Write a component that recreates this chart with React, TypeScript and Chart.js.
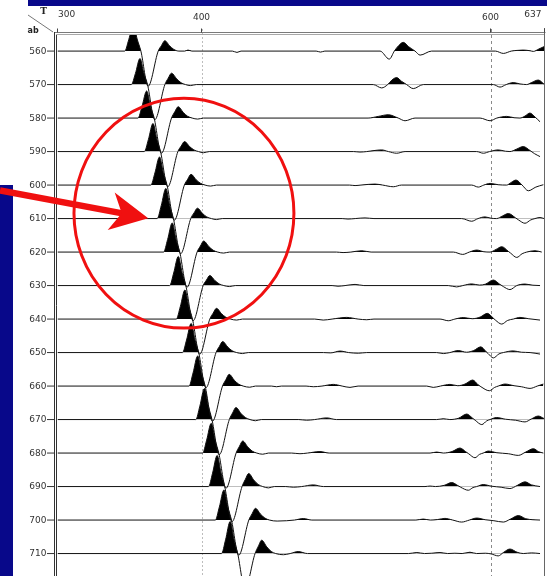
import React, { useEffect, useRef } from "react";
import { Chart, registerables } from "chart.js";

Chart.register(...registerables);

// Offsets of the gather traces (vertical axis, one wiggle per offset)
const OFFSETS = [560, 570, 580, 590, 600, 610, 620, 630, 640, 650, 660, 670, 680, 690, 700, 710];
// Time axis range and labelled ticks
const TIME_MIN = 300;
const TIME_MAX = 637;
const TIME_TICKS = [300, 400, 600, 637];
// Visible offset window (top of the frame clips the first trace)
const OFFSET_MIN = 555.2;
const OFFSET_MAX = 716.7;

// Each trace: [time, amplitude] samples, amplitude in offset units (positive = up)
const TRACE_560 = [[300,0],[346.5,0],[349.3,3.4],[352.5,8.0],[355.1,3.6],[357.7,0],[362.7,-10.5],[369.7,0],[372.0,1.7],[374.3,3.1],[377.5,1.6],[380.5,0.5],[384.0,0],[388,0],[390.3,0.3],[393,0],[421,0],[424.2,-0.4],[427,0],[479,0],[482,-0.3],[485,0],[523.2,0],[529.6,-2.4],[533.1,0],[536,1.6],[539.3,2.6],[543,1.3],[547.4,0],[550.9,-1.2],[558.9,0],[603,0],[608.5,-0.7],[614,0],[618,0.2],[622.3,0.3],[627,0.1],[629.3,-0.1],[633,0.6],[637,1.4]];
const TRACE_570 = [[300,0],[351.1,0],[353.9,3.3],[357.1,7.8],[359.7,3.5],[362.3,0],[367.3,-10.5],[374.3,0],[376.6,1.9],[378.9,3.4],[382.5,1.7],[385.5,0.55],[388.6,0],[392,-0.3],[396,0],[518.5,0],[524.3,-1.0],[528.5,0],[531.5,1.4],[534.7,2.1],[538,1.0],[541.6,0],[546.2,-1.2],[553.1,0],[601.6,0],[606.2,-0.75],[610.5,0],[615.4,0.6],[620,0.2],[624.7,0],[628,0.6],[632.7,1.35],[637,0]];
const TRACE_580 = [[300,0],[355.7,0],[358.5,3.5],[361.7,8.1],[364.3,3.6],[366.9,0],[371.9,-10.5],[378.9,0],[381.2,1.9],[383.5,3.4],[387,1.7],[390,0.55],[393.2,0],[397,-0.3],[401,0],[514.9,0],[522,0.5],[528.9,1.0],[535.8,0],[540.5,-0.8],[547.4,0],[592.4,0],[599.3,-0.8],[604,0],[610.8,0.5],[616,0.1],[620,0],[623.5,0.6],[626.9,1.5],[630.5,0.3],[633.9,-1.1]];
const TRACE_590 = [[300,0],[360.1,0],[362.9,3.6],[366.1,8.4],[368.7,3.8],[371.3,0],[376.3,-10.5],[383.3,0],[385.6,1.65],[387.9,3.0],[391.4,1.5],[394.4,0.5],[397.6,0],[401,-0.35],[405,0],[505,0],[509.3,-0.15],[514,0],[519,0.3],[524.3,0.5],[529,0],[534.7,-0.5],[540.5,0],[590.1,0],[594.7,-0.5],[599,0],[605,0.5],[610,0.1],[613.1,0],[617.5,0.7],[622.3,1.5],[627,0.3],[630,-0.6],[633.9,-1.5]];
const TRACE_600 = [[300,0],[364.6,0],[367.4,3.6],[370.6,8.4],[373.2,3.8],[375.8,0],[380.8,-10.5],[387.8,0],[390.1,1.75],[392.4,3.2],[395.9,1.6],[398.9,0.55],[402.1,0],[406,-0.3],[410,0],[502,0],[505.9,-0.15],[510,0],[515,0.2],[519.7,0.3],[525,0],[532.4,-0.5],[538,0],[586.6,0],[591.2,-0.6],[595,0],[599.3,0.5],[605,0.1],[610.8,0],[614,0.8],[617.3,1.5],[621.5,0],[625.8,-1.7],[631,-0.6],[636.2,0.1]];
const TRACE_610 = [[300,0],[369.0,0],[371.8,3.9],[375.0,9.0],[377.6,4.0],[380.2,0],[385.2,-10.5],[392.2,0],[394.5,1.7],[396.8,3.1],[400.3,1.55],[403.3,0.5],[406.5,0],[410,-0.3],[414,0],[497,0],[501,-0.15],[506,0],[512.8,0.2],[519,0],[579.7,0],[586.6,-0.8],[591,0],[595.8,0.5],[600,0.1],[603.9,0],[608,0.8],[612,1.5],[617,0.2],[619,-0.4],[623.5,-1.4],[627.5,-0.4],[630.4,0],[633.9,0.3],[636.7,0]];
const TRACE_620 = [[300,0],[373.4,0],[376.2,3.75],[379.4,8.7],[382.0,3.9],[384.6,0],[389.6,-10.5],[396.6,0],[398.9,1.8],[401.2,3.3],[404.7,1.65],[407.7,0.55],[410.9,0],[415,-0.3],[419,0],[493,0],[497.6,-0.15],[503,0],[510.5,0.4],[517,0],[573.9,0],[580.4,-0.7],[585,0],[590.1,0.6],[595,0.1],[599.3,0],[603.5,0.8],[607.4,1.6],[612,0.2],[613.5,-0.3],[617.8,-1.6],[621.5,-0.5],[624.7,0],[630.4,0.4],[635.1,0]];
const TRACE_630 = [[300,0],[377.6,0],[380.4,3.75],[383.6,8.7],[386.2,3.9],[388.8,0],[393.8,-10.5],[400.8,0],[403.1,1.65],[405.4,3.0],[408.9,1.5],[411.9,0.5],[415.1,0],[419,-0.3],[423,0],[490,0],[494.1,-0.2],[499,0],[505.9,0.35],[512,0],[570.4,0],[576.2,-0.4],[580.5,0],[586.6,0.5],[592,0.15],[596,0.4],[601.6,1.65],[606,0.4],[608.5,-0.3],[613.1,-1.2],[617.8,0],[623.5,0.45],[629,0.1],[633.9,0]];
const TRACE_640 = [[300,0],[382.2,0],[385.0,3.75],[388.2,8.7],[390.8,3.9],[393.4,0],[398.4,-10.5],[405.4,0],[407.7,1.75],[410.0,3.2],[413.5,1.6],[416.5,0.55],[419.7,0],[424,-0.3],[428,0],[478,0],[483.9,-0.3],[490,0],[500.1,0.5],[508,0],[514,-0.2],[519,0],[564.7,0],[570.4,-0.5],[575,0],[580.8,0.45],[587,0.1],[592.5,0.6],[597.4,1.7],[601.5,0.3],[603,-0.3],[607.4,-1.5],[611.5,-0.4],[615.4,0],[620,0.5],[626,0.1],[633.9,-0.3]];
const TRACE_650 = [[300,0],[386.5,0],[389.3,3.75],[392.5,8.7],[395.1,3.9],[397.7,0],[402.7,-10.5],[409.7,0],[412.0,1.8],[414.3,3.3],[417.8,1.65],[420.8,0.55],[424.0,0],[428,-0.3],[432,0],[484,0],[489,-0.1],[495.5,0.45],[501.5,0],[508.2,-0.2],[514,0],[562.4,0],[567,-0.3],[571.5,0],[577.3,0.6],[583,0.1],[588,0.6],[592.9,1.7],[596.5,0.3],[598,-0.3],[601.6,-1.6],[605.5,-0.4],[608.5,0],[615.4,0.5],[621,0.1],[627,0],[633.9,-0.45]];
const TRACE_660 = [[300,0],[391.0,0],[393.8,3.9],[397.0,9.0],[399.6,4.0],[402.2,0],[407.2,-10.5],[414.2,0],[416.5,1.9],[418.8,3.5],[422.3,1.75],[425.3,0.6],[428.5,0],[433,-0.35],[437,0],[448,0],[451.6,-0.2],[455,0],[472,0],[477,-0.2],[483,0],[490.9,0.5],[497,0],[502.4,-0.4],[508,0],[555.5,0],[560,-0.4],[565,0],[571.6,0.5],[577,0.1],[582,0.6],[587.3,1.8],[591,0.4],[593,-0.2],[598.8,-1.4],[602.5,-0.4],[605,0],[609.7,0.6],[616,0.1],[621,-0.2],[627,-0.7],[632,0],[636.2,0.6]];
const TRACE_670 = [[300,0],[395.7,0],[398.5,4.0],[401.7,9.3],[404.3,4.2],[406.9,0],[411.9,-10.5],[418.9,0],[421.2,2.0],[423.5,3.6],[427.0,1.8],[430.0,0.6],[433.2,0],[437,-0.35],[441,0],[467,0],[472.4,-0.2],[478,0],[486.3,0.5],[493,0],[562.4,0],[567,0.25],[571.5,0],[577.5,0.4],[583.2,1.65],[587,0.5],[589,-0.2],[593.6,-1.5],[597,-0.4],[599.3,0],[603.9,0.6],[610,0.1],[617,-0.2],[623.5,-0.7],[628,0.2],[632.7,1.05],[636.7,0.3]];
const TRACE_680 = [[300,0],[400.4,0],[403.2,3.85],[406.4,8.9],[409.0,4.0],[411.6,0],[416.6,-10.5],[423.6,0],[425.9,2.0],[428.2,3.6],[431.7,1.8],[434.7,0.6],[437.9,0],[442,-0.35],[446,0],[462,0],[467.8,-0.2],[473,0],[481.6,0.45],[488,0],[557.8,0],[562.4,0.3],[567,0],[573,0.45],[578.5,1.5],[582.5,0.4],[584.5,-0.2],[588.9,-1.4],[592,-0.4],[594.6,0],[598.1,0.6],[604,0.1],[612,-0.2],[618.9,-0.7],[624,0.3],[629.3,1.3],[633,0.4],[636.2,0]];
const TRACE_690 = [[300,0],[404.5,0],[407.3,4.0],[410.5,9.3],[413.1,4.2],[415.7,0],[420.7,-10.5],[427.7,0],[430.0,2.15],[432.3,3.9],[435.8,1.95],[438.8,0.65],[442.0,0],[446,-0.4],[450,0],[458,0],[463.2,-0.2],[469,0],[477,0.5],[484,0],[554.3,0],[557.8,0.15],[561.5,0],[567.5,0.35],[572.8,1.2],[577,0.3],[579,-0.2],[584.3,-1.1],[587.5,-0.3],[590.1,0],[594.6,0.6],[600.5,0.1],[607,-0.2],[613.1,-0.6],[618,0.3],[623.5,1.4],[628,0.5],[633.9,0]];
const TRACE_700 = [[300,0],[409.2,0],[412.0,3.9],[415.2,9.0],[417.8,4.0],[420.4,0],[425.4,-10.5],[432.4,0],[434.7,1.9],[437.0,3.5],[440.5,1.75],[443.5,0.6],[446.7,0],[452,-0.3],[458.6,-0.2],[464,0],[470.1,0.45],[476,0],[548,0],[553.1,0.3],[558,0],[563,0.15],[568.1,0.5],[573.5,0],[579.7,-0.6],[585,0],[590.1,0.6],[596,0.1],[602,-0.2],[608.5,-0.6],[613.5,0.3],[618.9,1.35],[624,0.4],[629,0.1],[633.9,0]];
const TRACE_710 = [[300,0],[413.5,0],[416.3,4.1],[419.5,9.6],[422.1,4.3],[424.7,0],[429.7,-10.5],[436.7,0],[439.0,2.2],[441.3,4.0],[444.8,2.0],[447.8,0.65],[451.0,0],[456.3,-0.35],[461,0],[466.6,0.6],[473,0],[543,0],[548.6,0.3],[554,0],[559,0.1],[564.7,0.3],[570,0],[575,0.1],[580,0],[585.4,0.4],[590,0],[596,0.1],[600,-0.1],[605,-0.7],[608.5,0.3],[613.1,1.35],[618,0.4],[622.3,0],[628,0.2],[633.9,0]];

const TRACES = [TRACE_560, TRACE_570, TRACE_580, TRACE_590, TRACE_600, TRACE_610, TRACE_620, TRACE_630,
  TRACE_640, TRACE_650, TRACE_660, TRACE_670, TRACE_680, TRACE_690, TRACE_700, TRACE_710];

// Highlight: ellipse around the direct arrival and an arrow pointing at it (time, offset)
const HIGHLIGHT_CENTER = [387.5, 608.4];
const HIGHLIGHT_RADII = [76.1, 34.3];
const ARROW_TAIL = [260.2, 601.6];
const ARROW_TIP = [362.8, 609.9];

const NAVY = "#08088a";
const RED = "#f01010";
const LABEL_FONT = '9px "DejaVu Sans", sans-serif';

const sectionDecor = {
  id: "sectionDecor",
  beforeDatasetsDraw(chart: any) {
    const { ctx, scales } = chart;
    const x = scales.x;
    ctx.save();
    const guides = [
      { v: 400, color: "#bdbdbd", dash: [2, 2] },
      { v: 600, color: "#8a8a8a", dash: [3, 3] },
    ];
    for (const g of guides) {
      const px = Math.round(x.getPixelForValue(g.v)) + 0.5;
      ctx.strokeStyle = g.color;
      ctx.lineWidth = 1;
      ctx.setLineDash(g.dash);
      ctx.beginPath();
      ctx.moveTo(px, 29);
      ctx.lineTo(px, chart.height);
      ctx.stroke();
    }
    ctx.restore();
  },
  afterDraw(chart: any) {
    const { ctx, chartArea, scales } = chart;
    const x = scales.x;
    const y = scales.y;
    const H = chart.height;
    ctx.save();
    ctx.setLineDash([]);
    ctx.lineWidth = 1;

    // frame
    ctx.strokeStyle = "#7a7a7a";
    ctx.beginPath();
    ctx.moveTo(54, 32.5);
    ctx.lineTo(chartArea.right + 1, 32.5);
    ctx.stroke();
    ctx.strokeStyle = "#a8a8a8";
    ctx.beginPath();
    ctx.moveTo(56, 34.5);
    ctx.lineTo(chartArea.right, 34.5);
    ctx.stroke();
    ctx.strokeStyle = "#333";
    ctx.beginPath();
    ctx.moveTo(54.5, 32);
    ctx.lineTo(54.5, H);
    ctx.moveTo(56.5, 35);
    ctx.lineTo(56.5, H);
    ctx.stroke();
    ctx.strokeStyle = "#666";
    ctx.beginPath();
    ctx.moveTo(Math.floor(chartArea.right) + 0.5, 28);
    ctx.lineTo(Math.floor(chartArea.right) + 0.5, H);
    ctx.stroke();

    // time ticks and labels along the top
    ctx.font = LABEL_FONT;
    ctx.fillStyle = "#333";
    ctx.textBaseline = "middle";
    TIME_TICKS.forEach((v, i) => {
      const px = Math.round(x.getPixelForValue(v)) - 0.5;
      ctx.strokeStyle = "#444";
      ctx.beginPath();
      ctx.moveTo(px, 28.5);
      ctx.lineTo(px, 32.5);
      ctx.stroke();
      const first = i === 0;
      const last = i === TIME_TICKS.length - 1;
      ctx.textAlign = first ? "left" : last ? "right" : "center";
      const tx = first ? px + 0.5 : last ? px - 3 : px;
      const ty = first || last ? 14.5 : 17.5;
      ctx.fillText(String(v), tx, ty);
    });

    // offset ticks and labels on the left
    ctx.textAlign = "right";
    OFFSETS.forEach((v) => {
      const py = y.getPixelForValue(v);
      ctx.strokeStyle = "#333";
      ctx.beginPath();
      ctx.moveTo(47, py);
      ctx.lineTo(54, py);
      ctx.stroke();
      ctx.fillText(String(v), 46.5, py + 0.5);
    });

    // corner caption
    ctx.strokeStyle = "#777";
    ctx.beginPath();
    ctx.moveTo(28, 15);
    ctx.lineTo(53, 32);
    ctx.stroke();
    ctx.fillStyle = "#222";
    ctx.textAlign = "center";
    ctx.font = 'bold 9px "DejaVu Serif", serif';
    ctx.fillText("T", 43.5, 12);
    ctx.textAlign = "left";
    ctx.font = 'bold 8px "DejaVu Sans", sans-serif';
    ctx.fillText("ab", 27.5, 30.5);

    // navy bars
    ctx.fillStyle = NAVY;
    ctx.fillRect(28, 0, chart.width - 28, 6);
    ctx.fillRect(0, 185, 13, H - 185);

    // highlight ellipse
    const cx = x.getPixelForValue(HIGHLIGHT_CENTER[0]);
    const cy = y.getPixelForValue(HIGHLIGHT_CENTER[1]);
    const rx = x.getPixelForValue(HIGHLIGHT_CENTER[0] + HIGHLIGHT_RADII[0]) - cx;
    const ry = y.getPixelForValue(HIGHLIGHT_CENTER[1] + HIGHLIGHT_RADII[1]) - cy;
    ctx.strokeStyle = RED;
    ctx.lineWidth = 3;
    ctx.beginPath();
    ctx.ellipse(cx, cy, rx, ry, 0, 0, Math.PI * 2);
    ctx.stroke();

    // arrow
    const tx0 = x.getPixelForValue(ARROW_TAIL[0]);
    const ty0 = y.getPixelForValue(ARROW_TAIL[1]);
    const tx1 = x.getPixelForValue(ARROW_TIP[0]);
    const ty1 = y.getPixelForValue(ARROW_TIP[1]);
    const len = Math.hypot(tx1 - tx0, ty1 - ty0);
    const ux = (tx1 - tx0) / len;
    const uy = (ty1 - ty0) / len;
    const nx = -uy;
    const ny = ux;
    const shaftHalf = 3.3;
    const headLen = 37.7;
    const headHalf = 19;
    const notch = 27;
    const bx = tx1 - headLen * ux;
    const by = ty1 - headLen * uy;
    const mx = tx1 - notch * ux;
    const my = ty1 - notch * uy;
    ctx.fillStyle = RED;
    ctx.beginPath();
    ctx.moveTo(tx0 + shaftHalf * nx, ty0 + shaftHalf * ny);
    ctx.lineTo(mx + 2 * ux + shaftHalf * nx, my + 2 * uy + shaftHalf * ny);
    ctx.lineTo(mx + 2 * ux - shaftHalf * nx, my + 2 * uy - shaftHalf * ny);
    ctx.lineTo(tx0 - shaftHalf * nx, ty0 - shaftHalf * ny);
    ctx.closePath();
    ctx.fill();
    ctx.beginPath();
    ctx.moveTo(tx1, ty1);
    ctx.lineTo(bx + headHalf * nx, by + headHalf * ny);
    ctx.lineTo(mx, my);
    ctx.lineTo(bx - headHalf * nx, by - headHalf * ny);
    ctx.closePath();
    ctx.fill();

    ctx.restore();
  },
};

export default function App() {
  const canvasRef = useRef<HTMLCanvasElement>(null);

  useEffect(() => {
    const canvas = canvasRef.current;
    if (!canvas) return;
    const chart = new Chart(canvas, {
      type: "line",
      data: {
        datasets: TRACES.map((pts, i) => ({
          label: String(OFFSETS[i]),
          data: pts.map(([t, a]) => ({ x: t, y: OFFSETS[i] - a })),
          borderColor: "#111",
          borderWidth: 1,
          pointRadius: 0,
          cubicInterpolationMode: "monotone" as const,
          fill: { target: { value: OFFSETS[i] }, above: "#000", below: "rgba(0,0,0,0)" },
        })),
      },
      options: {
        responsive: false,
        animation: false,
        devicePixelRatio: 1,
        events: [],
        layout: { padding: { left: 57.5, right: 2.5, top: 35, bottom: 0 } },
        scales: {
          x: { type: "linear", min: TIME_MIN, max: TIME_MAX, display: false },
          y: { type: "linear", reverse: true, min: OFFSET_MIN, max: OFFSET_MAX, display: false },
        },
        plugins: {
          legend: { display: false },
          tooltip: { enabled: false },
        },
      },
      plugins: [sectionDecor],
    } as any);
    return () => chart.destroy();
  }, []);

  return (
    <div
      style={{
        position: "fixed",
        left: 0,
        top: 0,
        width: 547,
        height: 576,
        overflow: "hidden",
        background: "#fff",
      }}
    >
      <canvas ref={canvasRef} width={547} height={576} style={{ display: "block", width: 547, height: 576 }} />
    </div>
  );
}
